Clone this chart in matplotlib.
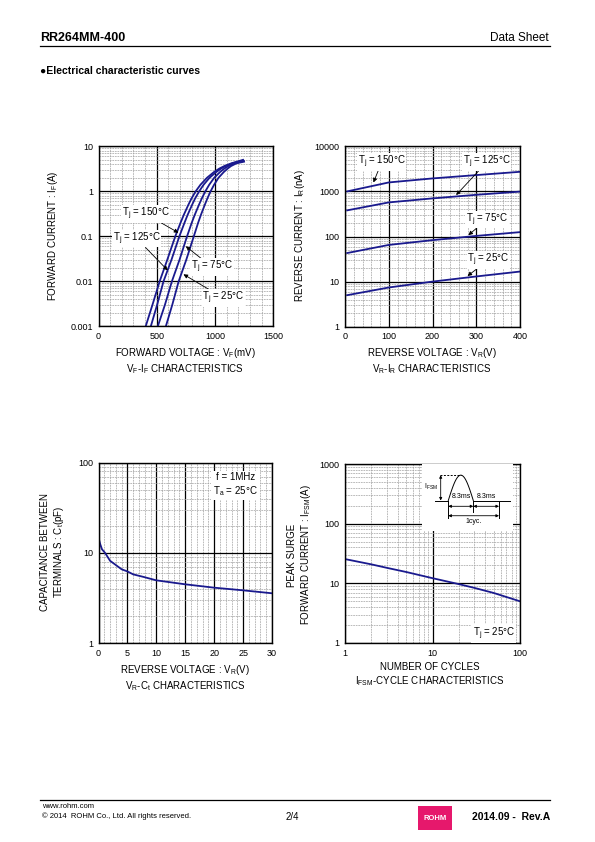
import matplotlib
matplotlib.use("Agg")
import numpy as np
import matplotlib.pyplot as plt
from matplotlib.ticker import MultipleLocator, LogLocator, FuncFormatter, NullFormatter
from matplotlib.patches import Rectangle

plt.rcParams['font.family'] = ['Liberation Sans', 'DejaVu Sans']
plt.rcParams['mathtext.default'] = 'regular'

W, H = 595, 842
NAVY = '#1a1a8e'

# VF-IF (forward voltage mV, forward current A)
if_pts = [0.001, 0.003, 0.01, 0.03, 0.1, 0.2, 0.3, 0.5, 0.7, 1, 1.4, 2, 2.68, 3.2, 3.65, 4.2]
vf_150 = [405, 463, 525, 590, 659, 704, 732, 771, 799, 834, 875, 931, 991, 1037, 1081, 1142, 1240]
if_150 = if_pts + [5.0]
vf_125 = [449, 503, 558, 626, 694, 738, 765, 803, 830, 864, 902, 953, 1010, 1052, 1092, 1150, 1243]
if_125 = if_pts + [4.85]
vf_75 = [509, 570, 630, 695, 760, 800, 826, 862, 887, 917, 950, 993, 1043, 1080, 1115, 1165, 1246]
if_75 = if_pts + [4.7]
vf_25 = [578, 633, 688, 753, 818, 855, 879, 912, 935, 962, 992, 1030, 1075, 1108, 1138, 1185, 1249]
if_25 = if_pts + [4.55]

# VR-IR (reverse voltage V, reverse current nA)
vr = [5, 100, 200, 300, 400]
ir_150 = [1000, 1580, 1940, 2300, 2720]
ir_125 = [380, 570, 700, 840, 990]
ir_75 = [43, 65, 83, 103, 125]
ir_25 = [5, 7.4, 10, 13, 16.7]

# VR-Ct (reverse voltage V, capacitance pF)
vr_ct = [0, 0.3, 0.6, 1.15, 2, 3.2, 4, 5, 6, 7.8, 10, 15, 20, 25, 30]
ct = [14.8, 12.5, 11.0, 10.0, 8.2, 7.2, 6.6, 6.25, 5.8, 5.43, 4.98, 4.5, 4.13, 3.86, 3.58]

# IFSM-cycles
cycles = [1, 2, 3, 5, 10, 20, 30, 50, 100]
ifsm = [25.5, 20.8, 18.2, 15.5, 12.2, 9.7, 8.4, 6.9, 5.0]

fig = plt.figure(figsize=(W / 100, H / 100), dpi=100)


def ft(x, y, s, **kw):
    kw.setdefault('va', 'center')
    return fig.text(x / W, 1 - y / H, s, **kw)


def hline(x0, x1, y, lw=0.9):
    fig.add_artist(plt.Line2D([x0 / W, x1 / W], [1 - y / H, 1 - y / H], color='black', lw=lw))


def make_ax(x0, y0, x1, y1):
    ax = fig.add_axes([x0 / W, 1 - y1 / H, (x1 - x0) / W, (y1 - y0) / H])
    for s in ax.spines.values():
        s.set_linewidth(1.0)
        s.set_zorder(5)
    ax.tick_params(which='both', length=0, labelsize=6.5, pad=4)
    ax.grid(which='minor', color='#a0a0a0', lw=0.5, ls=(0, (2.5, 1.2)))
    ax.grid(which='major', color='black', lw=0.9)
    ax.set_axisbelow(True)
    return ax


fmt = FuncFormatter(lambda v, p: '%g' % v)


def logy(ax, lo, hi):
    ax.set_yscale('log')
    ax.set_ylim(lo, hi)
    ax.yaxis.set_major_locator(LogLocator(base=10))
    ax.yaxis.set_minor_locator(LogLocator(base=10, subs=range(2, 10)))
    ax.yaxis.set_major_formatter(fmt)
    ax.yaxis.set_minor_formatter(NullFormatter())


def tlabel(ax, s, xy, xyt):
    ax.annotate(s, xy=xy, xytext=xyt, textcoords='axes fraction', fontsize=7,
                ha='center', va='center', zorder=6,
                bbox=dict(fc='white', ec='none', pad=0.4),
                arrowprops=dict(arrowstyle='-|>', color='black', lw=0.6,
                                mutation_scale=6, shrinkA=0, shrinkB=0))


# header
ft(40, 38, 'RR264MM-400', fontsize=9, fontweight='bold', ha='left')
ft(549, 38, 'Data Sheet', fontsize=8.5, ha='right')
hline(40, 550, 46)
ft(40, 71, '\u25cfElectrical characteristic curves', fontsize=7.5, fontweight='bold', ha='left')

# chart 1: VF-IF
ax1 = make_ax(98.5, 146.3, 273.3, 326.3)
ax1.set_xlim(0, 1500)
ax1.xaxis.set_major_locator(MultipleLocator(500))
ax1.xaxis.set_minor_locator(MultipleLocator(100))
logy(ax1, 0.001, 10)
for v, i in [(vf_150, if_150), (vf_125, if_125), (vf_75, if_75), (vf_25, if_25)]:
    ax1.plot(v, i, color=NAVY, lw=1.3, zorder=4, solid_joinstyle='round')
tlabel(ax1, 'T$_j$ = 150°C', (686, 0.12), (0.27, 0.624))
tlabel(ax1, 'T$_j$ = 125°C', (594, 0.0175), (0.22, 0.487))
tlabel(ax1, 'T$_j$ = 75°C', (749, 0.06), (0.65, 0.329))
tlabel(ax1, 'T$_j$ = 25°C', (729, 0.0143), (0.715, 0.157))
ft(53, 236, 'FORWARD CURRENT : I$_F$(A)', fontsize=7, rotation=90, ha='center')
ft(185, 361, 'FORWARD VOLTAGE : V$_F$(mV)\nV$_F$-I$_F$ CHARACTERISTICS', fontsize=7,
   ha='center', linespacing=1.15)

# chart 2: VR-IR
ax2 = make_ax(345, 146.3, 520, 326.7)
ax2.set_xlim(0, 400)
ax2.xaxis.set_major_locator(MultipleLocator(100))
ax2.xaxis.set_minor_locator(MultipleLocator(20))
logy(ax2, 1, 10000)
for i in [ir_150, ir_125, ir_75, ir_25]:
    ax2.plot(vr, i, color=NAVY, lw=1.3, zorder=4)
tlabel(ax2, 'T$_j$ = 150°C', (65, 1580), (0.21, 0.913))
tlabel(ax2, 'T$_j$ = 125°C', (254, 830), (0.81, 0.912))
tlabel(ax2, 'T$_j$ = 75°C', (282, 107), (0.81, 0.594))
tlabel(ax2, 'T$_j$ = 25°C', (280, 13.3), (0.82, 0.37))
ft(300, 236, 'REVERSE CURRENT : I$_R$(nA)', fontsize=7, rotation=90, ha='center')
ft(432, 361, 'REVERSE VOLTAGE : V$_R$(V)\nV$_R$-I$_R$ CHARACTERISTICS', fontsize=7,
   ha='center', linespacing=1.15)

# chart 3: VR-Ct
ax3 = make_ax(98.5, 462.7, 272, 643.3)
ax3.set_xlim(0, 30)
ax3.xaxis.set_major_locator(MultipleLocator(5))
ax3.xaxis.set_minor_locator(MultipleLocator(1))
logy(ax3, 1, 100)
ax3.plot(vr_ct, ct, color=NAVY, lw=1.3, zorder=4, solid_joinstyle='round')
ax3.text(0.79, 0.877, 'f = 1MHz\nT$_a$ = 25°C', transform=ax3.transAxes, fontsize=7,
         ha='center', va='center', linespacing=1.3, zorder=6,
         bbox=dict(fc='white', ec='none', pad=1.5))
ft(53, 552, 'CAPACITANCE BETWEEN\nTERMINALS : C$_t$(pF)', fontsize=7, rotation=90,
   ha='center', multialignment='center')
ft(185, 678, 'REVERSE VOLTAGE : V$_R$(V)\nV$_R$-C$_t$ CHARACTERISTICS', fontsize=7,
   ha='center', linespacing=1.15)

# chart 4: IFSM-cycles
ax4 = make_ax(345, 464, 520, 643)
ax4.set_xscale('log')
ax4.set_xlim(1, 100)
ax4.xaxis.set_major_locator(LogLocator(base=10))
ax4.xaxis.set_minor_locator(LogLocator(base=10, subs=range(2, 10)))
ax4.xaxis.set_major_formatter(fmt)
ax4.xaxis.set_minor_formatter(NullFormatter())
logy(ax4, 1, 1000)
ax4.plot(cycles, ifsm, color=NAVY, lw=1.3, zorder=4)
ax4.text(0.85, 0.054, 'T$_j$ = 25°C', transform=ax4.transAxes, fontsize=7,
         ha='center', va='center', zorder=6, bbox=dict(fc='white', ec='none', pad=1))
ft(300, 555, 'PEAK SURGE\nFORWARD CURRENT : I$_{FSM}$(A)', fontsize=7, rotation=90,
   ha='center', multialignment='center')
ft(430, 675, 'NUMBER OF CYCLES\nI$_{FSM}$-CYCLE CHARACTERISTICS', fontsize=7,
   ha='center', linespacing=1.15)

# waveform inset (drawing, not data)
ins = ax4.inset_axes([0.44, 0.626, 0.52, 0.374], zorder=6)
ins.set_xlim(0, 91)
ins.set_ylim(0, 66)
ins.axis('off')
ins.add_patch(Rectangle((0, 0), 91, 66, fc='white', ec='none'))
t = np.linspace(0, np.pi, 60)
ins.plot(26.3 + 25 * t / np.pi, 30 + 25 * np.sin(t), color='black', lw=0.7)
ins.plot([13, 26.3], [30, 30], color='black', lw=0.7)
ins.plot([51.3, 88], [30, 30], color='black', lw=0.7)
ins.plot([18, 38.6], [55, 55], color='black', lw=0.7, ls=(0, (2, 1.5)))
for x, y0 in [(26.3, 12.7), (51.3, 19), (77, 12.7)]:
    ins.plot([x, x], [30, y0], color='black', lw=0.7)
arr = dict(arrowstyle='<|-|>', color='black', lw=0.6, mutation_scale=4, shrinkA=0, shrinkB=0)
ins.annotate('', xy=(18.7, 55), xytext=(18.7, 30), arrowprops=arr)
ins.annotate('', xy=(26.3, 24.3), xytext=(51.3, 24.3), arrowprops=arr)
ins.annotate('', xy=(51.3, 24.3), xytext=(77, 24.3), arrowprops=arr)
ins.annotate('', xy=(26.3, 15), xytext=(77, 15), arrowprops=arr)
ins.text(9, 43, 'I$_{FSM}$', fontsize=5, ha='center', va='center')
ins.text(39, 34, '8.3ms', fontsize=5, ha='center', va='center')
ins.text(64.5, 34, '8.3ms', fontsize=5, ha='center', va='center')
ins.text(51.3, 9, '1cyc.', fontsize=5, ha='center', va='center')

# footer
hline(40, 550, 800)
ft(42, 806, 'www.rohm.com', fontsize=5.5, ha='left')
ft(42, 816, '\u00a9 2014  ROHM Co., Ltd. All rights reserved.', fontsize=5.5, ha='left')
ft(292, 817, '2/4', fontsize=7, ha='center')
fig.add_artist(Rectangle((418 / W, 1 - 830 / H), 34 / W, 24 / H, transform=fig.transFigure,
                         fc='#e6186c', ec='none'))
ft(435, 818, 'ROHM', fontsize=5.5, fontweight='bold', color='white', ha='center')
ft(472, 817, '2014.09 -  Rev.A', fontsize=7.5, fontweight='bold', ha='left')

fig.savefig('out.png', dpi=100)
